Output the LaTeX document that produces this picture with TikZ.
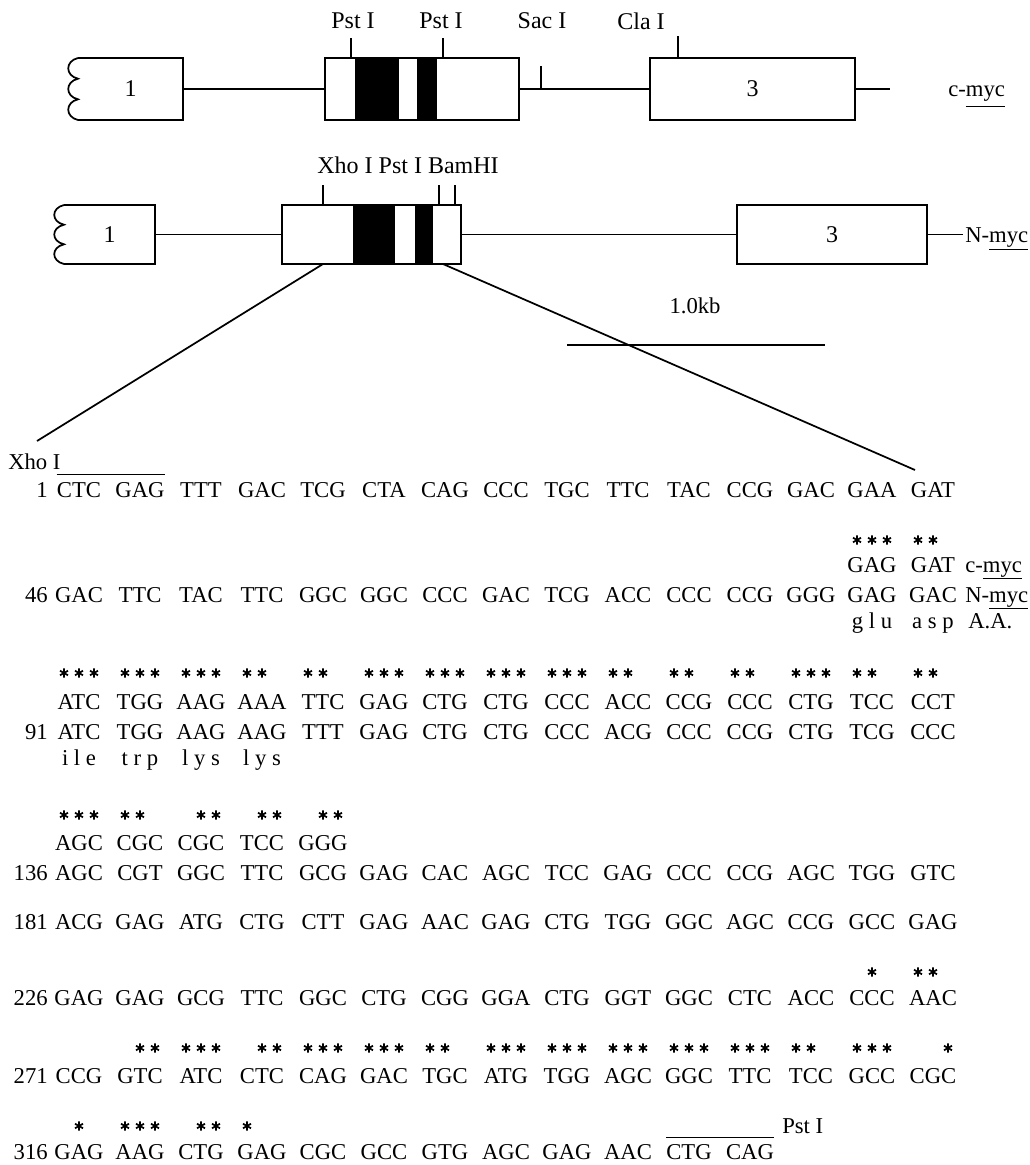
\documentclass[tikz,border=0pt]{standalone}
\usepackage{fontspec}
\setmainfont{Liberation Serif}
\newfontfamily\spc[LetterSpace=25]{Liberation Serif}
\usetikzlibrary{calc}
\def\colpitch{61}
\newlength\ulw
% underline placed below the descenders: #1 drop, #2 text
\newcommand\ulx[2]{\settowidth\ulw{#2}\rlap{\rule[-#1]{\ulw}{0.8pt}}#2}
% sequence row: #1 name, #2 baseline y, #3 x of first column, #4 codons
\newcommand\seqrow[4]{%
  \foreach \c [count=\k from 0] in {#4} {
    \node[seq] (#1-\k) at ({#3+\k*\colpitch},#2) {\c};
  }}
% star row: #1 y, #2 x of first column, #3 patterns (2 = star, 1 = none)
\newcommand\starrow[3]{%
  \foreach \p [count=\k from 0] in {#3} {
    \pgfmathtruncatemacro\pa{\p/100}
    \pgfmathtruncatemacro\pb{mod(\p,100)/10}
    \pgfmathtruncatemacro\pc{mod(\p,10)}
    \pgfmathsetmacro\xc{#2+\k*\colpitch}
    \ifnum\pa=2 \pic at (\xc-15,#1) {astpic}; \fi
    \ifnum\pb=2 \pic at (\xc,#1) {astpic}; \fi
    \ifnum\pc=2 \pic at (\xc+15,#1) {astpic}; \fi
  }}
\begin{document}
\begin{tikzpicture}[x=0.75pt,y=-0.75pt,
  seq/.style={font=\fontsize{17}{20}\selectfont, inner sep=0pt, anchor=base},
  maplab/.style={font=\fontsize{18}{20}\selectfont, inner sep=0pt},
  exon/.style={draw, line width=1.2pt, inner sep=0pt, font=\fontsize{18}{20}\selectfont},
  gline/.style={line width=1.3pt},
  tick/.style={line width=1.2pt},
  band/.style={fill=black, draw=none},
  astpic/.pic={\draw[line width=1.3pt] (0,-4.6) -- (0,4.6) (-4,-2.3) -- (4,2.3) (-4,2.3) -- (4,-2.3);}]
\useasboundingbox (0,0) rectangle (1030,1165);

% ---------------- c-myc map ----------------
\node[exon, draw=none, minimum width=78.75pt, minimum height=46.5pt] (c1) at (130.5,89) {1};
\draw[gline] (78,58) -- (183,58) -- (183,120) -- (78,120)
  .. controls (65,117) and (65,102.3) .. (78,99.3)
  .. controls (65,96.3) and (65,81.7) .. (78,78.7)
  .. controls (65,75.7) and (65,61) .. (78,58);
\node[exon, minimum width=145.5pt, minimum height=46.5pt] (c2) at (422,89) {};
\fill[band] (355,58) rectangle (399,120);
\fill[band] (417,58) rectangle (437,120);
\node[exon, minimum width=153.75pt, minimum height=46.5pt] (c3) at (752.5,89) {3};
\draw[gline] (c1.east) -- (c2.west);
\draw[gline] (c2.east) -- (c3.west);
\coordinate (ctail) at (890,89);
\draw[gline] (c3.east) -- (ctail);
\node[seq, anchor=base west] (cmyc) at (948,96) {c-\ulx{8pt}{myc}};
% restriction sites
\node[maplab] (lp1) at (353,21) {Pst I};
\node[maplab] (lp2) at (441,21) {Pst I};
\node[maplab] (ls1) at (542,21) {Sac I};
\node[maplab] (lc1) at (641,21) {Cla I};
\coordinate (tp1) at (351,38); \coordinate (bp1) at (351,58);
\coordinate (tp2) at (443,38); \coordinate (bp2) at (443,58);
\coordinate (ts1) at (541,66); \coordinate (bs1) at (541,89);
\coordinate (tc1) at (678,36); \coordinate (bc1) at (678,59);
\draw[tick] (tp1) -- (bp1);
\draw[tick] (tp2) -- (bp2);
\draw[tick] (ts1) -- (bs1);
\draw[tick] (tc1) -- (bc1);

% ---------------- N-myc map ----------------
\node[exon, draw=none, minimum width=68.25pt, minimum height=44.25pt] (n1) at (109.5,234.5) {1};
\draw[gline] (64,205) -- (155,205) -- (155,264) -- (64,264)
  .. controls (51,261) and (51,247.3) .. (64,244.3)
  .. controls (51,241.3) and (51,227.7) .. (64,224.7)
  .. controls (51,221.7) and (51,208) .. (64,205);
\node[exon, minimum width=134.25pt, minimum height=44.25pt] (n2) at (371.5,234.5) {};
\fill[band] (353,205) rectangle (395,264);
\fill[band] (415,205) rectangle (433,264);
\node[exon, minimum width=142.5pt, minimum height=44.25pt] (n3) at (832,234.5) {3};
\draw[gline] (n1.east) -- (n2.west);
\draw[gline] (n2.east) -- (n3.west);
\coordinate (ntail) at (963,234.5);
\draw[gline] (n3.east) -- (ntail);
\node[seq, anchor=base west] (nmyc) at (965,242) {N-\ulx{6pt}{myc}};
\node[maplab] (lxpb) at (408,165) {Xho I Pst I BamHI};
\coordinate (tx1) at (323,185); \coordinate (bx1) at (323,205);
\coordinate (tb1) at (439,185); \coordinate (bb1) at (439,205);
\coordinate (tb2) at (455,185); \coordinate (bb2) at (455,205);
\draw[tick] (tx1) -- (bx1);
\draw[tick] (tb1) -- (bb1);
\draw[tick] (tb2) -- (bb2);

% expansion lines
\coordinate (el0) at (323,264); \coordinate (el1) at (37,441);
\coordinate (er0) at (443,264); \coordinate (er1) at (915,470);
\draw[gline] (el0) -- (el1);
\draw[gline] (er0) -- (er1);
% scale bar
\node[seq, anchor=center] (kb) at (695,306) {1.0kb};
\coordinate (kb1) at (567,345); \coordinate (kb2) at (825,345);
\draw[gline] (kb1) -- (kb2);

% ---------------- sequence ----------------
\node[seq, anchor=base west] (xho) at (8,469.5) {Xho I};
\node[seq, anchor=base east] (na) at (48,497.5) {1};
\seqrow{La}{497.5}{79}{CTC,GAG,TTT,GAC,TCG,CTA,CAG,CCC,TGC,TTC,TAC,CCG,GAC,GAA,GAT}
\draw[line width=0.9pt] ([yshift=6pt]La-0.north west) -- ([yshift=6pt]La-1.north east);

\starrow{540}{872}{222,221}
\seqrow{Lbc}{572.5}{872}{GAG,GAT}
\node[seq, anchor=base west] (cmyc2) at (965,572.5) {c-\ulx{5pt}{myc}};
\node[seq, anchor=base east] (nb) at (48,602.5) {46};
\seqrow{Lb}{602.5}{79}{GAC,TTC,TAC,TTC,GGC,GGC,CCC,GAC,TCG,ACC,CCC,CCG,GGG,GAG,GAC}
\node[seq, anchor=base west] (nmyc2) at (965,602.5) {N-\ulx{5pt}{myc}};
\node[seq, font=\fontsize{17}{20}\spc] (aa1) at (872,628) {glu};
\node[seq, font=\fontsize{17}{20}\spc] (aa2) at (933,628) {asp};
\node[seq, anchor=base west] (aa3) at (968,628) {A.A.};

\starrow{673}{79}{222,222,222,221,221,222,222,222,222,221,221,221,222,221,221}
\seqrow{Lcc}{709.5}{79}{ATC,TGG,AAG,AAA,TTC,GAG,CTG,CTG,CCC,ACC,CCG,CCC,CTG,TCC,CCT}
\node[seq, anchor=base east] (nc) at (48,739.5) {91};
\seqrow{Lc}{739.5}{79}{ATC,TGG,AAG,AAG,TTT,GAG,CTG,CTG,CCC,ACG,CCC,CCG,CTG,TCG,CCC}
\foreach \a [count=\k from 0] in {ile,trp,lys,lys}
  \node[seq, font=\fontsize{17}{20}\spc] (ac-\k) at ({79+\k*\colpitch},765) {\a};

\starrow{815}{79}{222,221,122,122,122}
\seqrow{Ldc}{850.5}{79}{AGC,CGC,CGC,TCC,GGG}
\node[seq, anchor=base east] (nd) at (48,880.5) {136};
\seqrow{Ld}{880.5}{79}{AGC,CGT,GGC,TTC,GCG,GAG,CAC,AGC,TCC,GAG,CCC,CCG,AGC,TGG,GTC}

\node[seq, anchor=base east] (ne) at (48,929.5) {181};
\seqrow{Le}{929.5}{79}{ACG,GAG,ATG,CTG,CTT,GAG,AAC,GAG,CTG,TGG,GGC,AGC,CCG,GCC,GAG}

\starrow{972}{872}{121,221}
\node[seq, anchor=base east] (nf) at (48,1005.5) {226};
\seqrow{Lf}{1005.5}{79}{GAG,GAG,GCG,TTC,GGC,CTG,CGG,GGA,CTG,GGT,GGC,CTC,ACC,CCC,AAC}

\starrow{1048}{140}{122,222,122,222,222,221,222,222,222,222,222,221,222,112}
\node[seq, anchor=base east] (ng) at (48,1083.5) {271};
\seqrow{Lg}{1083.5}{79}{CCG,GTC,ATC,CTC,CAG,GAC,TGC,ATG,TGG,AGC,GGC,TTC,TCC,GCC,CGC}

\starrow{1126}{79}{121,222,122,211}
\node[seq, anchor=base west] (pst) at (782,1133.5) {Pst I};
\node[seq, anchor=base east] (nh) at (48,1159.5) {316};
\seqrow{Lh}{1159.5}{79}{GAG,AAG,CTG,GAG,CGC,GCC,GTG,AGC,GAG,AAC,CTG,CAG}
\draw[line width=0.9pt] ([yshift=5pt]Lh-10.north west) -- ([yshift=5pt]Lh-11.north east);
\end{tikzpicture}
\end{document}
